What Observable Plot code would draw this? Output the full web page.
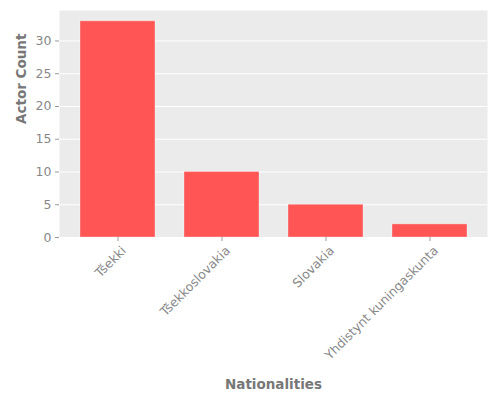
<!DOCTYPE html>
<html>
<head>
<meta charset="utf-8">
<script src="https://cdn.jsdelivr.net/npm/d3@7"></script>
<script src="https://cdn.jsdelivr.net/npm/@observablehq/plot@0.6"></script>
<style>
  body { margin: 0; background: white; }
  #chart svg { font-family: "DejaVu Sans", sans-serif; }
</style>
</head>
<body>
<div id="chart"></div>
<script>
const nationalities = ["Tšekki", "Tšekkoslovakia", "Slovakia", "Yhdistynt kuningaskunta"];
const actorCounts = [33, 10, 5, 2];
const yTicks = [0, 5, 10, 15, 20, 25, 30];

const data = nationalities.map((n, i) => ({nationality: n, count: actorCounts[i]}));

const chart = Plot.plot({
  width: 500,
  height: 400,
  marginLeft: 59,
  marginRight: 13,
  marginTop: 10,
  marginBottom: 163,
  style: {fontSize: "12.5px", color: "#888", background: "white"},
  x: {domain: nationalities, paddingInner: 0.28, paddingOuter: 0.19},
  y: {domain: [0, 34.65]},
  marks: [
    Plot.frame({fill: "#EBEBEB", stroke: null}),
    Plot.gridY(yTicks, {stroke: "white", strokeOpacity: 1, strokeWidth: 1}),
    Plot.barY(data, {
      x: "nationality",
      y: "count",
      fill: "#FF5555",
      stroke: "white",
      strokeOpacity: 0.35,
      strokeWidth: 1
    }),
    Plot.axisY(yTicks, {
      tickSize: 4,
      tickPadding: 4,
      stroke: "#999",
      fill: "#888",
      label: null
    }),
    // tick marks only
    Plot.axisX({
      tickSize: 4,
      tickFormat: () => "",
      stroke: "#999",
      label: null
    }),
    // rotated labels, nudged like matplotlib's right-aligned rotation
    Plot.axisX({
      tickSize: 0,
      tickPadding: 8,
      tickRotate: -45,
      dx: 6,
      dy: 3,
      fill: "#888",
      label: null
    }),
    Plot.text(["Actor Count"], {
      frameAnchor: "left",
      dx: -38,
      rotate: -90,
      text: d => d,
      fontSize: 13.5,
      fontWeight: "bold",
      fill: "#777"
    }),
    Plot.text(["Nationalities"], {
      frameAnchor: "bottom",
      dy: 151,
      text: d => d,
      fontSize: 13.5,
      fontWeight: "bold",
      fill: "#777"
    })
  ]
});

document.getElementById("chart").append(chart);
</script>
</body>
</html>
